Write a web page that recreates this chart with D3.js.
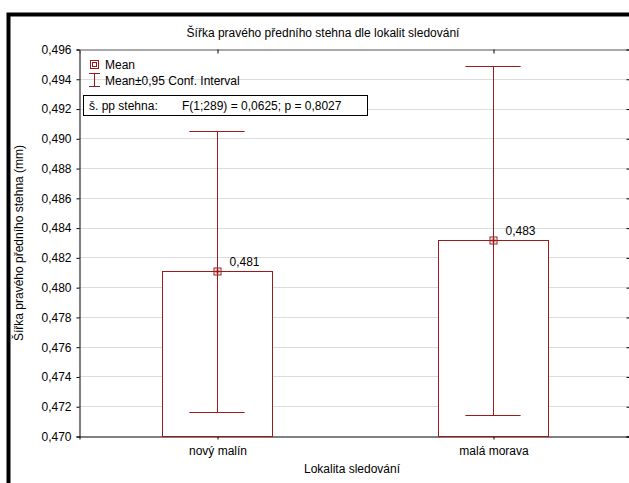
<!DOCTYPE html>
<html><head><meta charset="utf-8">
<script src="https://cdn.jsdelivr.net/npm/d3@7"></script>
<style>
html,body{margin:0;padding:0;background:#fff;overflow:hidden}
text{font-family:"Liberation Sans",Arial,sans-serif;fill:#000}
</style></head>
<body>
<svg id="chart" width="629" height="483"></svg>
<script>
const categories = ["nový malín", "malá morava"];
const means = [0.48108, 0.48315];
const ciLower = [0.47161, 0.47143];
const ciUpper = [0.49051, 0.49487];
const meanLabels = ["0,481", "0,483"];
const yTicks = [0.470,0.472,0.474,0.476,0.478,0.480,0.482,0.484,0.486,0.488,0.490,0.492,0.494,0.496];

const title = "Šířka pravého předního stehna dle lokalit sledování";
const yTitle = "Šířka pravého předního stehna (mm)";
const xTitle = "Lokalita sledování";
const statName = "š. pp stehna:";
const statText = "F(1;289) = 0,0625; p = 0,8027";

const red = "#9a1b1b";
const svg = d3.select("#chart");
const L = 79, R = 631, T = 49, B = 436;

const x = d3.scaleLinear().domain([0.5, 2.5]).range([L, R]);
const y = d3.scaleLinear().domain([0.470, 0.496]).range([B, T]);
const fmt = v => d3.format(".3f")(v).replace(".", ",");

// outer frame
svg.append("rect").attr("x", 8.5).attr("y", 14.5).attr("width", 700).attr("height", 600)
  .attr("fill", "none").attr("stroke", "#000").attr("stroke-width", 4);

// gridlines
svg.append("g").selectAll("line").data(yTicks.slice(1, -1)).join("line")
  .attr("x1", L).attr("x2", R).attr("y1", d => Math.round(y(d)) + 0.5).attr("y2", d => Math.round(y(d)) + 0.5)
  .attr("stroke", "#dcdcdc").attr("stroke-width", 1);

// axes
const yAxisL = d3.axisLeft(y).tickValues(yTicks).tickFormat(fmt).tickSize(3).tickPadding(5);
const gL = svg.append("g").attr("transform", `translate(${L + 0.5},0.5)`).call(yAxisL);
const yAxisR = d3.axisRight(y).tickValues(yTicks).tickFormat("").tickSize(-4);
const gR = svg.append("g").attr("transform", `translate(${R - 0.5},0.5)`).call(yAxisR);
const xAxisB = d3.axisBottom(x).tickValues([1, 2]).tickFormat((d, i) => categories[i]).tickSize(3).tickPadding(7);
const gB = svg.append("g").attr("transform", `translate(0.5,${B + 0.5})`).call(xAxisB);
const xAxisT = d3.axisTop(x).tickValues([1, 2]).tickFormat("").tickSize(-4);
const gT = svg.append("g").attr("transform", `translate(0.5,${T + 0.5})`).call(xAxisT);
[gL, gR, gB, gT].forEach(g => {
  g.select(".domain").attr("stroke", "#000");
  g.selectAll(".tick line").attr("stroke", "#000");
  g.selectAll("text").attr("font-size", 12).attr("fill", "#000")
   .attr("font-family", '"Liberation Sans",Arial,sans-serif');
});
gT.select(".domain").attr("stroke", "#555");

// bars
const bw = 0.4;
const g = svg.append("g");
g.selectAll("rect.bar").data(means).join("rect").attr("class", "bar")
  .attr("x", (d, i) => Math.round(x(i + 1 - bw / 2)) + 0.5)
  .attr("width", (d, i) => Math.round(x(i + 1 + bw / 2)) - Math.round(x(i + 1 - bw / 2)))
  .attr("y", d => Math.round(y(d)) + 0.5)
  .attr("height", d => B - Math.round(y(d)))
  .attr("fill", "#fff").attr("stroke", red).attr("stroke-width", 1);

// CI whiskers
const capHalf = 0.1;
means.forEach((m, i) => {
  const cx = Math.round(x(i + 1)) + 0.5;
  g.append("line").attr("x1", cx).attr("x2", cx)
    .attr("y1", Math.round(y(ciUpper[i])) + 0.5).attr("y2", Math.round(y(ciLower[i])) + 0.5)
    .attr("stroke", red);
  [ciUpper[i], ciLower[i]].forEach(v => {
    g.append("line").attr("x1", x(i + 1 - capHalf)).attr("x2", x(i + 1 + capHalf))
      .attr("y1", Math.round(y(v)) + 0.5).attr("y2", Math.round(y(v)) + 0.5)
      .attr("stroke", red);
  });
  const my = Math.round(y(m));
  g.append("rect").attr("x", cx - 3.5).attr("y", my - 3).attr("width", 7).attr("height", 7)
    .attr("fill", "none").attr("stroke", red);
  g.append("rect").attr("x", cx - 1.5).attr("y", my - 1).attr("width", 3).attr("height", 3)
    .attr("fill", "none").attr("stroke", red).attr("stroke-width", 0.6);
  g.append("text").attr("x", cx + 12).attr("y", my - 5).attr("font-size", 12).text(meanLabels[i]);
});

// legend
svg.append("rect").attr("x", 90.5).attr("y", 60.5).attr("width", 8).attr("height", 8)
  .attr("fill", "none").attr("stroke", red);
svg.append("rect").attr("x", 92.5).attr("y", 62.5).attr("width", 4).attr("height", 4)
  .attr("fill", "none").attr("stroke", red);
svg.append("text").attr("x", 105).attr("y", 69).attr("font-size", 12).text("Mean");
svg.append("line").attr("x1", 94.5).attr("x2", 94.5).attr("y1", 73.5).attr("y2", 86.5).attr("stroke", red);
svg.append("line").attr("x1", 89).attr("x2", 100).attr("y1", 73.5).attr("y2", 73.5).attr("stroke", red);
svg.append("line").attr("x1", 89).attr("x2", 100).attr("y1", 86.5).attr("y2", 86.5).attr("stroke", red);
svg.append("text").attr("x", 105).attr("y", 85).attr("font-size", 12).text("Mean±0,95 Conf. Interval");

// stats box
svg.append("rect").attr("x", 83.5).attr("y", 95.5).attr("width", 284).attr("height", 20)
  .attr("fill", "#fff").attr("stroke", "#000");
svg.append("text").attr("x", 89).attr("y", 110).attr("font-size", 12).text(statName);
svg.append("text").attr("x", 182).attr("y", 110).attr("font-size", 12).text(statText);

// titles
svg.append("text").attr("x", 323).attr("y", 37).attr("text-anchor", "middle").attr("font-size", 12).text(title);
svg.append("text").attr("transform", "translate(23,243) rotate(-90)").attr("text-anchor", "middle")
  .attr("font-size", 12).text(yTitle);
svg.append("text").attr("x", 352).attr("y", 473).attr("text-anchor", "middle").attr("font-size", 12).text(xTitle);
</script>
</body></html>
